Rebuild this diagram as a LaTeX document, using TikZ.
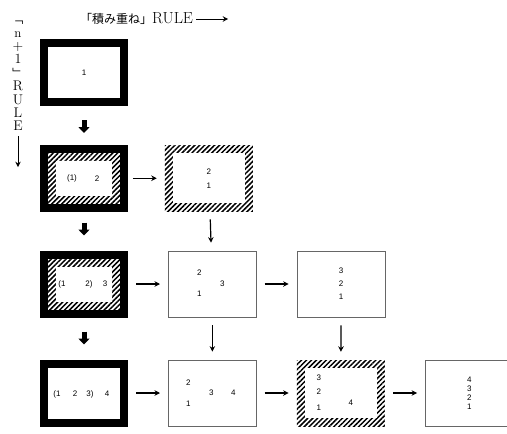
\documentclass[tikz,border=0pt]{standalone}
\usepackage{fontspec}
\usepackage{tikz}
\usetikzlibrary{positioning, arrows.meta, patterns.meta, calc}
\newfontfamily\cjk{Noto Sans CJK JP}
\newfontfamily\numfont{Liberation Sans}

\begin{document}
\begin{tikzpicture}[
    x=1pt, y=1pt,
    >={Stealth[length=5.5pt,width=5.5pt]},
    node distance=42pt and 40pt,
    box/.style={rectangle, inner sep=0pt, minimum width=88pt, minimum height=66pt},
    frame/.style={box, draw, line width=8pt, minimum width=80pt, minimum height=59pt},
    plain/.style={box, draw=black!60, line width=.7pt},
    hatched/.style={pattern={Lines[angle=45,distance=3.5pt,line width=1.5pt]},
        path picture={\fill[white] ([shift={(#1,#1)}]path picture bounding box.south west)
            rectangle ([shift={(-#1,-#1)}]path picture bounding box.north east);}},
    hatched/.default=8pt,
    num/.style={font=\numfont\fontsize{8}{9}\selectfont, inner sep=0pt},
    flow/.style={->, line width=1.2pt, shorten <=8pt, shorten >=8pt},
    blockarrow/.style={line width=5pt, -{Triangle[length=6pt,width=11pt]}, shorten <=14pt, shorten >=15pt}
]
    \useasboundingbox (0,0) rectangle (507,-434);

    % Titles
    \node[anchor=west, inner sep=0pt, font=\fontsize{16}{16}\selectfont] (title) at (80,-19)
        {{\cjk\fontsize{12}{12}\selectfont 「積み重ね」}RULE};
    \coordinate[right=35pt of title.east] (titleend);
    \draw[->, line width=.9pt] ([xshift=3pt]title.east) -- (titleend);

    \node[anchor=north, align=center, inner sep=0pt, font=\fontsize{14}{13.4}\selectfont] (side) at (18,-21)
        {{\cjk\fontsize{11}{11}\selectfont ﹁}\\{\fontsize{13}{13}\selectfont n}\\+\\1\\{\cjk\fontsize{11}{11}\selectfont ﹂}\\R\\U\\L\\E};
    \coordinate[below=36pt of side.south] (sideend);
    \draw[->, line width=.9pt] ([yshift=-5pt]side.south) -- (sideend);

    % Boxes
    \node[frame] (r1a) at (84,-72.5) {};
    \node[frame, hatched=12pt, below=of r1a] (r2a) {};
    \node[box, hatched, right=of r2a, num, align=center] (r2b) {2\\[5pt]1};
    \node[frame, hatched=12pt, below=of r2a] (r3a) {};
    \node[plain, right=of r3a] (r3b) {};
    \node[plain, right=of r3b, num, align=center] (r3c) {3\\[4pt]2\\[4pt]1};
    \node[frame, below=of r3a] (r4a) {};
    \node[plain, right=of r4a] (r4b) {};
    \node[box, hatched, right=of r4b] (r4c) {};
    \node[plain, right=of r4c, num, align=center] (r4d) {4\\3\\2\\1};

    % Numbers
    \node[num] (n1a) at (r1a) {1};
    \node[num] (n2a1) at ([xshift=-12pt]r2a.center) {(1)};
    \node[num] (n2a2) at ([xshift=13pt]r2a.center) {2};
    \node[num] (n3a1) at ([xshift=-22pt]r3a.center) {(1};
    \node[num] (n3a2) at ([xshift=5pt]r3a.center) {2)};
    \node[num] (n3a3) at ([xshift=21pt]r3a.center) {3};
    \node[num] (n3b2) at ([shift={(-13pt,11pt)}]r3b.center) {2};
    \node[num] (n3b1) at ([shift={(-13pt,-10pt)}]r3b.center) {1};
    \node[num] (n3b3) at ([xshift=10pt]r3b.center) {3};
    \node[num] (n4a1) at ([shift={(-27pt,-1pt)}]r4a.center) {(1};
    \node[num] (n4a2) at ([shift={(-9pt,-1pt)}]r4a.center) {2};
    \node[num] (n4a3) at ([shift={(6pt,-1pt)}]r4a.center) {3)};
    \node[num] (n4a4) at ([shift={(23pt,-1pt)}]r4a.center) {4};
    \node[num] (n4b2) at ([shift={(-24pt,10pt)}]r4b.center) {2};
    \node[num] (n4b1) at ([shift={(-24pt,-11pt)}]r4b.center) {1};
    \node[num] (n4b3) at ([xshift=-1pt]r4b.center) {3};
    \node[num] (n4b4) at ([xshift=21pt]r4b.center) {4};
    \node[num] (n4c3) at ([shift={(-22pt,15pt)}]r4c.center) {3};
    \node[num] (n4c2) at ([shift={(-22pt,1pt)}]r4c.center) {2};
    \node[num] (n4c1) at ([shift={(-22pt,-15pt)}]r4c.center) {1};
    \node[num] (n4c4) at ([shift={(10pt,-10pt)}]r4c.center) {4};

    % Arrows
    \draw[blockarrow] (r1a) -- (r2a);
    \draw[blockarrow] (r2a) -- (r3a);
    \draw[blockarrow] (r3a) -- (r4a);
    \draw[flow] (r2a) -- (r2b);
    \draw[flow] (r2b) -- (r3b);
    \draw[flow] (r3a) -- (r3b);
    \draw[flow] (r3b) -- (r3c);
    \draw[flow] (r3b) -- (r4b);
    \draw[flow] (r3c) -- (r4c);
    \draw[flow] (r4a) -- (r4b);
    \draw[flow] (r4b) -- (r4c);
    \draw[flow] (r4c) -- (r4d);
\end{tikzpicture}
\end{document}
